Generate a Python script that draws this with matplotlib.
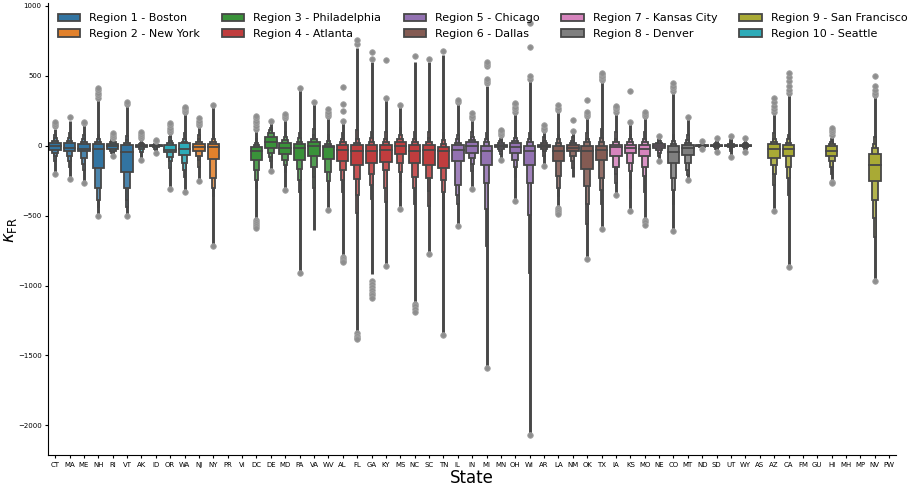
import colorsys
import matplotlib
matplotlib.use("Agg")
import matplotlib.pyplot as plt
from matplotlib.colors import to_rgb
from matplotlib.patches import Rectangle, Patch

# ---------------- data ----------------
states = ["CT", "MA", "ME", "NH", "RI", "VT", "AK", "ID", "OR", "WA", "NJ", "NY", "PR", "VI",
          "DC", "DE", "MD", "PA", "VA", "WV", "AL", "FL", "GA", "KY", "MS", "NC", "SC", "TN",
          "IL", "IN", "MI", "MN", "OH", "WI", "AR", "LA", "NM", "OK", "TX", "IA", "KS", "MO",
          "NE", "CO", "MT", "ND", "SD", "UT", "WY", "AS", "AZ", "CA", "FM", "GU", "HI", "MH",
          "MP", "NV", "PW"]
state_region = [1, 1, 1, 1, 1, 1, 10, 10, 10, 10, 2, 2, 2, 2,
                3, 3, 3, 3, 3, 3, 4, 4, 4, 4, 4, 4, 4, 4,
                5, 5, 5, 5, 5, 5, 6, 6, 6, 6, 6, 7, 7, 7,
                7, 8, 8, 8, 8, 8, 8, 9, 9, 9, 9, 9, 9, 9,
                9, 9, 9]
region_cities = ["Boston", "New York", "Philadelphia", "Atlanta", "Chicago",
                 "Dallas", "Kansas City", "Denver", "San Francisco", "Seattle"]

N = None
medians = [-5, -15, -20, -25, -5, -45, -5, 0, -28, -20, -12, -10, N, N,
           -35, 30, -18, -18, 0, -10, -30, -35, -38, -30, 0, -36, -29, -40,
           -29, 0, -36, -2, -10, -36, 0, -34, -15, -34, -29, -10, -17, -20,
           -5, -45, -15, 0, 0, 0, 0, N, -25, -20, N, N, -40, N,
           N, -135, N]
q1 = [-30, -40, -40, -160, -22, -185, -10, -4, -45, -65, -40, -95, N, N,
      -105, -15, -57, -100, -70, -95, -110, -135, -125, -115, -60, -124, -136, -160,
      -112, -52, -136, -10, -52, -136, -8, -112, -40, -167, -105, -76, -52, -76,
      -15, -124, -64, -3, -5, -5, -5, N, -85, -76, N, N, -70, N,
      N, -255, N]
q3 = [20, 20, 15, 12, 15, 5, 4, 3, 5, 18, 15, 15, N, N,
      -10, 65, 22, 12, 25, 0, 2, 3, 3, 5, 25, 7, 7, -10,
      7, 24, 0, 8, 19, 0, 8, 0, 8, 0, 0, 7, 7, 7,
      10, -5, 7, 3, 5, 5, 5, N, 12, 8, N, N, -5, N,
      N, -57, N]
lv2_lo = [-50, -75, -85, -300, -40, -300, -25, -10, -80, -125, -75, -230, N, N,
          -175, -50, -100, -165, -150, -185, -175, -235, -205, -176, -125, -220, -230, -245,
          -280, -90, -270, -22, -105, -267, -22, -215, -75, -290, -230, -150, -120, -150,
          -30, -230, -124, -7, -12, -12, -12, N, -140, -150, N, N, -110, N,
          N, -385, N]
lv2_hi = [35, 35, 30, 25, 28, 20, 12, 8, 18, 30, 28, 30, N, N,
          5, 90, 40, 30, 45, 15, 25, 22, 30, 25, 50, 25, 25, 15,
          20, 40, 25, 18, 32, 25, 20, 22, 20, 25, 28, 28, 25, 28,
          20, 15, 22, 7, 12, 12, 12, N, 25, 22, N, N, 10, N,
          N, -18, N]
lv3_lo = [-75, -110, -130, -385, -55, -390, -45, -20, -110, -170, -105, -300, N, N,
          -245, -80, -140, -245, -220, -255, -245, -350, -280, -300, -185, -300, -325, -330,
          -350, -130, -455, -40, -150, -493, -40, -300, -110, -420, -320, -205, -180, -215,
          -50, -320, -170, -12, -22, -25, -22, N, -200, -230, N, N, -150, N,
          N, -515, N]
lv3_hi = [55, 55, 50, 45, 38, 40, 22, 15, 35, 50, 45, 50, N, N,
          20, 110, 65, 55, 75, 35, 50, 50, 55, 50, 80, 50, 55, 40,
          45, 60, 45, 32, 55, 45, 35, 45, 35, 50, 55, 50, 45, 50,
          35, 35, 40, 12, 22, 25, 22, N, 45, 45, N, N, 25, N,
          N, 10, N]
lv4_lo = [-110, -150, -170, -440, -65, -440, -70, -30, -160, -220, -150, -360, N, N,
          -300, -110, -190, -330, -300, -320, -330, -480, -380, -400, -260, -420, -430, -450,
          -420, -180, -720, -60, -220, -907, -70, -360, -160, -560, -420, -270, -300, -330,
          -75, -420, -210, -16, -30, -40, -30, N, -280, -350, N, N, -200, N,
          N, -650, N]
lv4_hi = [80, 90, 80, 80, 45, 70, 30, 22, 60, 90, 80, 80, N, N,
          50, 130, 100, 90, 120, 80, 90, 110, 100, 100, 130, 100, 100, 90,
          80, 100, 90, 45, 100, 90, 60, 80, 60, 90, 120, 100, 80, 100,
          50, 80, 80, 18, 32, 40, 32, N, 90, 80, N, N, 50, N,
          N, 60, N]
tail_lo = [-200, -232, -265, -500, -72, -500, -100, -45, -305, -325, -245, -715, N, N,
           -525, -172, -315, -905, -600, -455, -785, -1330, -920, -860, -445, -1115, -765, -1350,
           -570, -305, -1585, -95, -390, -2065, -130, -440, -220, -800, -590, -345, -465, -525,
           -95, -605, -245, -20, -40, -70, -40, N, -455, -865, N, N, -260, N,
           N, -955, N]
tail_hi = [120, 180, 160, 330, 50, 290, 45, 30, 95, 230, 145, 280, N, N,
           105, 160, 190, 405, 300, 205, 175, 700, 600, 330, 280, 600, 600, 650,
           300, 190, 430, 65, 230, 470, 100, 240, 90, 200, 460, 240, 160, 200,
           60, 380, 190, 25, 45, 60, 45, N, 240, 370, N, N, 70, N,
           N, 350, N]
outliers_hi = [[140, 155, 170], [205], [165, 172], [340, 360, 380, 400, 412], [55, 65, 75, 88],
               [300, 310], [55, 70, 85, 95], [35, 43], [100, 115, 130, 145, 160],
               [240, 255, 268, 278], [150, 165, 180, 195], [293], [], [],
               [120, 140, 160, 180, 200, 215], [175], [200, 215, 228], [414], [310],
               [210, 225, 245, 262], [180, 250, 300, 420], [730, 757], [620, 671],
               [340, 610], [288], [640], [620], [680],
               [310, 330], [200, 215, 235], [450, 465, 480, 570, 585, 602], [75, 90, 105, 114],
               [245, 260, 280, 300, 309], [480, 500, 709, 880], [115, 130, 150],
               [255, 270, 290], [107, 186], [210, 225, 240, 330],
               [470, 480, 490, 500, 510, 521], [245, 260, 275, 286], [167, 393],
               [210, 225, 245], [71], [390, 410, 430, 452], [205], [31], [55], [67], [55], [],
               [245, 265, 285, 310, 340], [380, 400, 430, 460, 490, 520], [], [],
               [80, 95, 110, 125], [], [], [365, 380, 400, 430, 502], []]
outliers_lo = [[-205], [-236], [-269], [-505], [-76], [-502], [-105], [-52], [-310], [-329],
               [-250], [-719], [], [],
               [-530, -545, -560, -575, -586], [-179], [-319], [-909], [], [-462],
               [-795, -810, -825, -833], [-1340, -1360, -1375, -1386],
               [-970, -990, -1010, -1030, -1050, -1070, -1088], [-862], [-450],
               [-1130, -1150, -1170, -1190], [-771], [-1357],
               [-576], [-310], [-1590], [-105], [-393], [-2071], [-148],
               [-445, -460, -475, -490], [], [-810], [-598], [-350], [-469],
               [-530, -545, -564], [-107], [-612], [-248], [-24], [-48], [-81], [-48], [],
               [-469], [-867], [], [], [-262, -270], [], [], [-965], []]

# ---------------- style ----------------
palette = ["#1f77b4", "#ff7f0e", "#2ca02c", "#d62728", "#9467bd",
           "#8c564b", "#e377c2", "#7f7f7f", "#bcbd22", "#17becf"]


def desaturate(c, p):
    h, l, s = colorsys.rgb_to_hls(*to_rgb(c))
    return colorsys.hls_to_rgb(h, l, s * p)


def mix(c1, c2, t):
    return tuple(a * (1 - t) + b * t for a, b in zip(c1, c2))


region_colors = [desaturate(c, 0.75) for c in palette]
linecolor = "#474747"
fliercolor = "#8e8e8e"
lw = 1.3

fig = plt.figure(figsize=(9.17, 4.88), dpi=100)
ax = fig.add_axes([0.0523, 0.0666, 0.9252, 0.9266])

for i, st in enumerate(states):
    if medians[i] is None:
        continue
    base = region_colors[state_region[i] - 1]
    light = mix(base, (1, 1, 1), 0.85)
    levels = [(q1[i], q3[i]), (lv2_lo[i], lv2_hi[i]),
              (lv3_lo[i], lv3_hi[i]), (lv4_lo[i], lv4_hi[i])]
    ax.plot([i, i], [tail_lo[i], tail_hi[i]], color=linecolor, lw=2.1,
            solid_capstyle="butt", zorder=1)
    for k in range(len(levels) - 1, -1, -1):
        lo, hi = levels[k]
        w = 0.8 * 0.5 ** k
        col = mix(base, light, k / 7)
        ax.add_patch(Rectangle((i - w / 2, lo), w, hi - lo, facecolor=col,
                               edgecolor=linecolor, lw=lw, zorder=2 + (3 - k) * 0.1))
    ax.plot([i - 0.4, i + 0.4], [medians[i], medians[i]], color=linecolor,
            lw=lw, zorder=2.5)
    fl = outliers_hi[i] + outliers_lo[i]
    if fl:
        ax.scatter([i] * len(fl), fl, s=16, facecolor=fliercolor,
                   edgecolor="#a3a3a3", lw=0.6, zorder=3)

ax.set_xlim(-0.5, len(states) - 0.5)
ax.set_ylim(-2216, 1019)
ax.set_xticks(range(len(states)))
ax.set_xticklabels(states)
ax.set_yticks([1000, 500, 0, -500, -1000, -1500, -2000])
ax.tick_params(labelsize=5, length=2.5, width=0.8, pad=2)
for side in ("top", "right"):
    ax.spines[side].set_visible(False)
ax.set_xlabel("State", fontsize=12)
ax.set_ylabel(r"$\kappa_{\mathrm{FR}}$", fontsize=12)
ax.xaxis.set_label_coords(0.5, -0.030)
ax.yaxis.set_label_coords(-0.034, 0.5)

handles = [Patch(facecolor=region_colors[r], edgecolor=linecolor, lw=lw,
                 label=f"Region {r + 1} - {region_cities[r]}") for r in range(10)]
ax.legend(handles=handles, ncol=5, loc="upper left", frameon=False, fontsize=8,
          borderaxespad=0.5)

fig.savefig("out.png", dpi=100)
